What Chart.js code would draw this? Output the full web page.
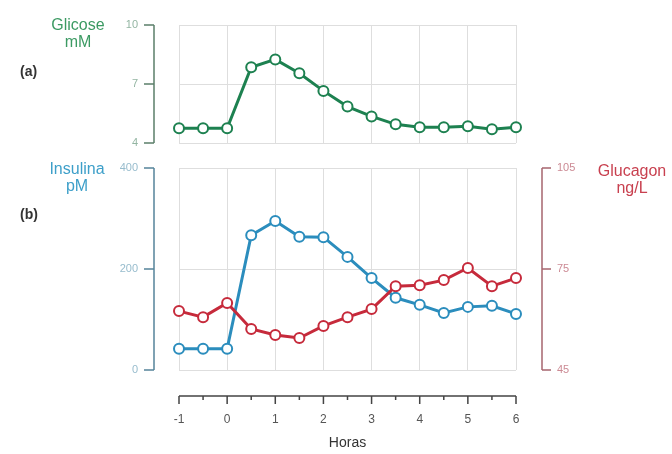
<!DOCTYPE html>
<html>
<head>
<meta charset="utf-8">
<script src="https://cdn.jsdelivr.net/npm/chart.js@4.4.1/dist/chart.umd.min.js"></script>
<style>
  body { margin: 0; background: #fff; font-family: "Liberation Sans", Arial, sans-serif; }
  #wrap { position: relative; width: 672px; height: 454px; overflow: hidden; }
  canvas { position: absolute; left: 0; }
  .lbl { position: absolute; text-align: center; line-height: 17px; font-size: 16px; }
  .tag { position: absolute; font-weight: bold; font-size: 14px; color: #333; }
</style>
</head>
<body>
<div id="wrap">
  <canvas id="topChart" width="672" height="150" style="top:0"></canvas>
  <canvas id="bottomChart" width="672" height="304" style="top:150px"></canvas>
  <div class="lbl" style="left:38px;top:16px;width:80px;color:#3c9a63">Glicose<br>mM</div>
  <div class="lbl" style="left:37px;top:160px;width:80px;color:#3d9fc9">Insulina<br>pM</div>
  <div class="lbl" style="left:590px;top:162px;width:84px;color:#c8404f">Glucagon<br>ng/L</div>
  <div class="tag" style="left:20px;top:63px">(a)</div>
  <div class="tag" style="left:20px;top:206px">(b)</div>
</div>
<script>
// data
const hours = [-1, -0.5, 0, 0.5, 1, 1.5, 2, 2.5, 3, 3.5, 4, 4.5, 5, 5.5, 6];
const glucose = [4.75, 4.75, 4.75, 7.85, 8.25, 7.55, 6.65, 5.85, 5.35, 4.95, 4.8, 4.8, 4.85, 4.7, 4.8];
const insulin = [42, 42, 42, 267, 295, 264, 263, 224, 182, 143, 129, 113, 125, 127, 111];
const glucagon = [62.5, 60.7, 64.9, 57.2, 55.4, 54.5, 58.1, 60.7, 63.1, 69.9, 70.2, 71.7, 75.3, 69.9, 72.3];
const glucoseTicks = [4, 7, 10];
const insulinTicks = [0, 200, 400];
const glucagonTicks = [45, 75, 105];

const GRID = '#dedede';

function pts(ys) {
    return hours.map((h, i) => ({ x: h, y: ys[i] }));
}

function lineSet(label, ys, color, axis) {
    return {
        label: label,
        data: pts(ys),
        yAxisID: axis,
        borderColor: color,
        borderWidth: 3,
        pointRadius: 5,
        pointBorderWidth: 2,
        pointBackgroundColor: '#fff',
        pointBorderColor: color,
        tension: 0,
        clip: false
    };
}

// the scales' own padding would shrink the plot box, so drop it
function noPad(s) {
    s.paddingTop = 0;
    s.paddingBottom = 0;
    s.paddingLeft = 0;
    s.paddingRight = 0;
}

// axes in the figure sit away from the plot box, like brackets
const bracketAxes = {
    id: 'bracketAxes',
    afterDraw(chart, args, opts) {
        const ctx = chart.ctx;
        const area = chart.chartArea;
        (opts.axes || []).forEach(a => {
            const scale = chart.scales[a.id];
            ctx.save();
            ctx.strokeStyle = a.color;
            ctx.lineWidth = 1.5;
            ctx.beginPath();
            if (a.side === 'bottom') {
                const y = area.bottom + a.gap;
                ctx.moveTo(scale.getPixelForValue(scale.min), y);
                ctx.lineTo(scale.getPixelForValue(scale.max), y);
                scale.ticks.forEach(t => {
                    const x = scale.getPixelForValue(t.value);
                    ctx.moveTo(x, y);
                    ctx.lineTo(x, y + a.tick);
                });
                hours.filter(h => h % 1 !== 0).forEach(h => {
                    const x = scale.getPixelForValue(h);
                    ctx.moveTo(x, y);
                    ctx.lineTo(x, y + a.tick / 2);
                });
            } else {
                const dir = a.side === 'left' ? -1 : 1;
                const x = a.side === 'left' ? area.left - a.gap : area.right + a.gap;
                ctx.moveTo(x, scale.getPixelForValue(scale.max));
                ctx.lineTo(x, scale.getPixelForValue(scale.min));
                scale.ticks.forEach(t => {
                    const y = scale.getPixelForValue(t.value);
                    ctx.moveTo(x, y);
                    ctx.lineTo(x + dir * a.tick, y);
                });
            }
            ctx.stroke();
            ctx.restore();
        });
    }
};

function yScale(min, max, ticks, color, side, width) {
    return {
        type: 'linear',
        position: side,
        min: min,
        max: max,
        afterBuildTicks: s => { s.ticks = ticks.map(v => ({ value: v })); },
        afterFit: s => { s.width = width; noPad(s); },
        border: { display: false },
        grid: { color: GRID, drawTicks: false, drawOnChartArea: side === 'left' },
        ticks: {
            padding: 41,
            color: color,
            font: { family: 'Liberation Sans', size: 11 }
        }
    };
}

const topChart = new Chart(document.getElementById('topChart'), {
    type: 'line',
    data: { datasets: [lineSet('Glicose', glucose, '#1d8150', 'y')] },
    options: {
        responsive: false,
        animation: false,
        layout: { padding: { top: 25, right: 156, left: 0, bottom: 0 } },
        plugins: {
            legend: { display: false },
            tooltip: { enabled: false },
            bracketAxes: { axes: [{ id: 'y', side: 'left', gap: 25, tick: 10, color: '#5b7f6a' }] }
        },
        scales: {
            x: {
                type: 'linear', min: -1, max: 6,
                ticks: { display: false, stepSize: 1 },
                grid: { color: GRID, drawTicks: false },
                border: { display: false },
                afterFit: s => { s.height = 7; noPad(s); }
            },
            y: yScale(4, 10, glucoseTicks, '#93b5a2', 'left', 179)
        }
    },
    plugins: [bracketAxes]
});

const bottomChart = new Chart(document.getElementById('bottomChart'), {
    type: 'line',
    data: {
        datasets: [
            lineSet('Glucagon', glucagon, '#c62a3b', 'y2'),
            lineSet('Insulina', insulin, '#2b8dbd', 'y')
        ]
    },
    options: {
        responsive: false,
        animation: false,
        layout: { padding: { top: 18, right: 0, left: 0, bottom: 0 } },
        plugins: {
            legend: { display: false },
            tooltip: { enabled: false },
            bracketAxes: {
                axes: [
                    { id: 'y', side: 'left', gap: 25, tick: 10, color: '#55849b' },
                    { id: 'y2', side: 'right', gap: 26, tick: 9, color: '#a7666f' },
                    { id: 'x', side: 'bottom', gap: 26, tick: 8, color: '#444' }
                ]
            }
        },
        scales: {
            x: {
                type: 'linear', min: -1, max: 6,
                ticks: { stepSize: 1, padding: 42, color: '#555', font: { family: 'Liberation Sans', size: 12 } },
                grid: { color: GRID, drawTicks: false },
                border: { display: false },
                title: { display: true, text: 'Horas', color: '#333', font: { family: 'Liberation Sans', size: 14 }, padding: { top: 0, bottom: 2 } },
                afterFit: s => { s.height = 84; noPad(s); }
            },
            y: yScale(0, 400, insulinTicks, '#97bccd', 'left', 179),
            y2: yScale(45, 105, glucagonTicks, '#cc8a94', 'right', 156)
        }
    },
    plugins: [bracketAxes]
});
</script>
</body>
</html>
